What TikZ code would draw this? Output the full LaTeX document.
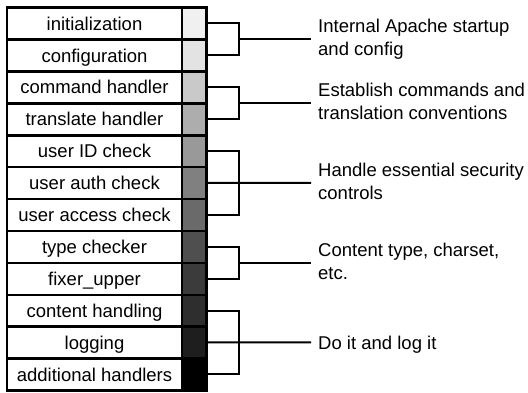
\documentclass[tikz,border=0pt]{standalone}
\usepackage{fontspec}
\setmainfont{Liberation Sans}
\definecolor{s1}{HTML}{F0F0F0}
\definecolor{s2}{HTML}{E3E3E3}
\definecolor{s3}{HTML}{C9C9C9}
\definecolor{s4}{HTML}{ADADAD}
\definecolor{s5}{HTML}{999999}
\definecolor{s6}{HTML}{808080}
\definecolor{s7}{HTML}{6A6A6A}
\definecolor{s8}{HTML}{4F4F4F}
\definecolor{s9}{HTML}{3B3B3B}
\definecolor{s10}{HTML}{2E2E2E}
\definecolor{s11}{HTML}{1E1E1E}
\definecolor{s12}{HTML}{000000}
\begin{document}
\begin{tikzpicture}[x=1pt,y=-1pt,
  lab/.style={minimum width=175pt,minimum height=31.9pt,inner sep=0pt,
    font=\fontsize{18.5}{23}\selectfont,text height=13.3pt,text depth=0pt},
  swatch/.style={minimum width=24.5pt,minimum height=31.9pt,inner sep=0pt,fill=#1},
  gridline/.style={line width=2.5pt},
  sepline/.style={line width=1.6pt},
  br/.style={line width=2pt},
  note/.style={anchor=north west,inner sep=0pt,align=left,
    font=\fontsize{18.5}{23}\selectfont}]
\useasboundingbox (0,0) rectangle (528,392);
% label cells
\foreach \i/\t in {1/initialization,2/configuration,3/command handler,4/translate handler,
  5/user ID check,6/user auth check,7/user access check,8/type checker,9/fixer\_upper,
  10/content handling,11/logging,12/additional handlers}{
  \node[lab] (r\i) at (94.5,{7.5+(\i-0.5)*31.9}) {\t};
  \node[swatch=s\i] (g\i) at (194.25,{7.5+(\i-0.5)*31.9}) {};
}
% grid
\draw[sepline] (r1.north east) -- (r12.south east);
\foreach \i in {1,...,11}{\draw[gridline] (r\i.south west) -- (g\i.south east);}
\draw[gridline] (r1.north west) rectangle (g12.south east);
% bracket joints and free ends
\coordinate (b1) at (239,39.4);   \coordinate (e1) at (311,39.4);
\coordinate (b2) at (239,103.2);  \coordinate (e2) at (311,103.2);
\coordinate (b3) at (239,182.95); \coordinate (e3) at (311,182.95);
\coordinate (b4) at (239,262.7);  \coordinate (e4) at (311,262.7);
\coordinate (b5) at (239,342.45); \coordinate (e5) at (311,342.45);
% brackets
\draw[br] (g1.east) -| (b1) |- (g2.east); \draw[br] (b1) -- (e1);
\draw[br] (g3.east) -| (b2) |- (g4.east); \draw[br] (b2) -- (e2);
\draw[br] (g5.east) -| (b3) |- (g7.east); \draw[br] (g6.east) -- (e3);
\draw[br] (g8.east) -| (b4) |- (g9.east); \draw[br] (b4) -- (e4);
\draw[br] (g10.east) -| (b5) |- (g12.east); \draw[br] (g11.east) -- (e5);
% notes
\node[note] (t1) at (318,19.2) {Internal Apache startup\\and config};
\node[note] (t2) at (318,83) {Establish commands and\\translation conventions};
\node[note] (t3) at (318,163) {Handle essential security\\controls};
\node[note] (t4) at (318,242.7) {Content type, charset,\\etc.};
\node[note] (t5) at (318,335.8) {Do it and log it};
\end{tikzpicture}
\end{document}
